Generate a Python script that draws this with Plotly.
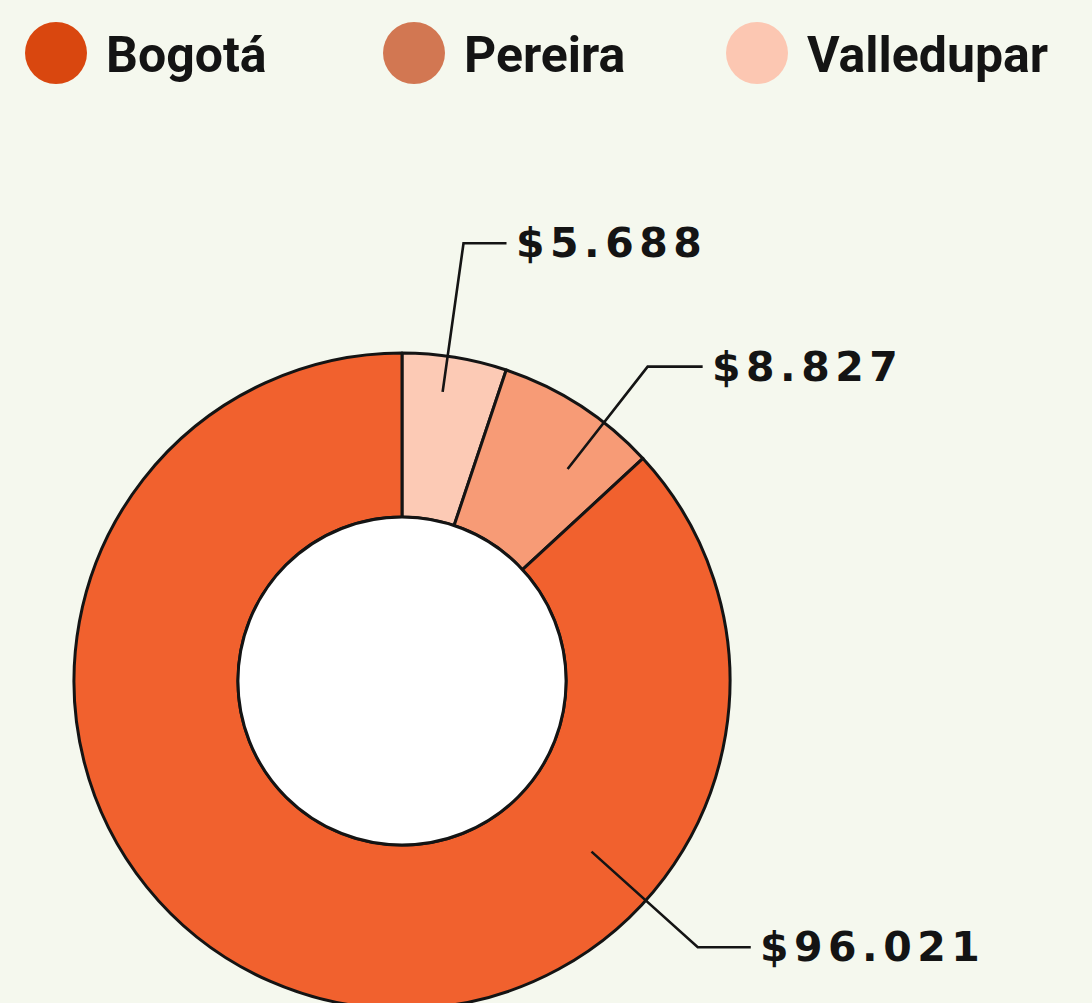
import math
import plotly.graph_objects as go

# Data
cities = ["Bogotá", "Pereira", "Valledupar"]
amounts = [96021, 8827, 5688]

# Colours
slice_colors = ["#f1612e", "#f79b76", "#fccab5"]
legend_colors = ["#d9470f", "#d27752", "#fcc7b2"]
bg = "#f5f8ee"
ink = "#141414"

W, H = 1092, 1010
cx, cy, R = 402, 681, 328
hole = 0.5


def px(x):
    return x / W


def py(y):
    return 1 - y / H


def money(v):
    return "$" + f"{v:,}".replace(",", ".")


fig = go.Figure()

# Ring, clockwise from 12 o'clock: smallest slice first
ring_labels = cities[::-1]
ring_values = amounts[::-1]
ring_colors = slice_colors[::-1]
fig.add_trace(go.Pie(
    labels=ring_labels,
    values=ring_values,
    sort=False,
    direction="clockwise",
    rotation=0,
    hole=hole,
    marker=dict(colors=ring_colors, line=dict(color=ink, width=3)),
    textinfo="none",
    hoverinfo="label+value",
    showlegend=False,
    domain=dict(x=[px(cx - R), px(cx + R)], y=[py(cy + R), py(cy - R)]),
))

# White disc filling the hole
r_in = R * hole
fig.add_trace(go.Pie(
    labels=[""],
    values=[1],
    sort=False,
    marker=dict(colors=["#ffffff"], line=dict(color=ink, width=3)),
    textinfo="none",
    hoverinfo="skip",
    showlegend=False,
    domain=dict(x=[px(cx - r_in), px(cx + r_in)], y=[py(cy + r_in), py(cy - r_in)]),
))

# Leader lines: angle (deg, clockwise from top), start radius, elbow radius, run
leaders = {
    "Valledupar": (8, 292, 442, 43),
    "Pereira": (38, 269, 399, 55),
    "Bogotá": (132, 255, 398, 53),
}

shapes = []
annotations = []
for city, val in zip(cities, amounts):
    ang, r0, r1, run = leaders[city]
    a = math.radians(ang)
    x0, y0 = cx + r0 * math.sin(a), cy - r0 * math.cos(a)
    x1, y1 = cx + r1 * math.sin(a), cy - r1 * math.cos(a)
    x2 = x1 + run
    path = f"M {px(x0)} {py(y0)} L {px(x1)} {py(y1)} L {px(x2)} {py(y1)}"
    shapes.append(dict(type="path", xref="paper", yref="paper", path=path,
                       line=dict(color=ink, width=2.6)))
    annotations.append(dict(
        x=px(x2 + 7), y=py(y1), xref="paper", yref="paper",
        xanchor="left", yanchor="middle", showarrow=False,
        text=f'<span style="letter-spacing:5.5px">{money(val)}</span>',
        font=dict(family="DejaVu Sans", size=41, color=ink, weight="bold"),
    ))

# Legend row drawn by hand
legend_cx = [56, 414, 757]
legend_tx = [104, 462, 805]
leg_y, leg_r = 53, 31
for city, col, lx, tx in zip(cities, legend_colors, legend_cx, legend_tx):
    shapes.append(dict(type="circle", xref="paper", yref="paper",
                       x0=px(lx - leg_r), x1=px(lx + leg_r),
                       y0=py(leg_y + leg_r), y1=py(leg_y - leg_r),
                       fillcolor=col, line=dict(width=0)))
    annotations.append(dict(
        x=px(tx), y=py(leg_y + 2), xref="paper", yref="paper",
        xanchor="left", yanchor="middle", showarrow=False,
        text=city,
        font=dict(family="Roboto", size=50, color=ink, weight="bold"),
    ))

fig.update_layout(
    width=W, height=H,
    margin=dict(l=0, r=0, t=0, b=0),
    paper_bgcolor=bg, plot_bgcolor=bg,
    shapes=shapes, annotations=annotations,
    showlegend=False,
)

fig.write_html(
    "out.html",
    config={"displayModeBar": False},
    post_script=(
        "document.documentElement.style.overflow='hidden';"
        "document.body.style.overflow='hidden';"
        "document.body.style.margin='0';"
    ),
)
